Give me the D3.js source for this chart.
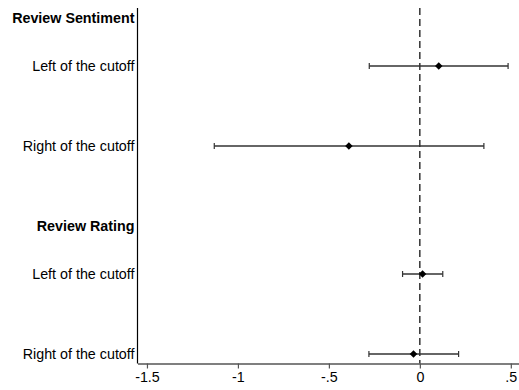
<!DOCTYPE html>
<html>
<head>
<meta charset="utf-8">
<script src="https://cdn.jsdelivr.net/npm/d3@7"></script>
<style>
  html, body { margin: 0; padding: 0; background: #fff; }
  svg { display: block; font-family: "Liberation Sans", Arial, sans-serif; }
</style>
</head>
<body>
<svg id="chart" width="519" height="390"></svg>
<script>
// Coefficient estimates with 95% confidence intervals, grouped by outcome
const groups = ["Review Sentiment", "Review Rating"];
const labels = ["Left of the cutoff", "Right of the cutoff"];
const estimates = [0.104, -0.39, 0.015, -0.035];
const lower = [-0.278, -1.13, -0.095, -0.28];
const upper = [0.485, 0.352, 0.126, 0.213];
const xTicks = [-1.5, -1, -0.5, 0, 0.5];
const xTickLabels = ["-1.5", "-1", "-.5", "0", ".5"];

const svg = d3.select("#chart");
const plotLeft = 137.5, plotRight = 519, plotTop = 8, plotBottom = 363.5;
const fontSize = "14.3px";

const x = d3.scaleLinear().domain([-1.552, 0.545]).range([plotLeft, plotRight]);
// Row positions: heading, then two coefficient rows per group
const y = d3.scaleLinear().domain([0, 4.2]).range([18, 354]);

const rows = [];
groups.forEach((g, gi) => {
  const base = gi * 2.6;
  rows.push({ type: "head", text: g, pos: base });
  labels.forEach((l, li) => {
    const k = gi * 2 + li;
    rows.push({ type: "coef", text: l, pos: base + 0.6 + li,
      est: estimates[k], lo: lower[k], hi: upper[k] });
  });
});

// Vertical reference line at zero
svg.append("line")
  .attr("x1", x(0)).attr("x2", x(0))
  .attr("y1", plotTop).attr("y2", plotBottom)
  .attr("stroke", "#000").attr("stroke-width", 1.2)
  .attr("stroke-dasharray", "7,4");

// Y axis line
svg.append("line")
  .attr("x1", plotLeft).attr("x2", plotLeft)
  .attr("y1", plotTop).attr("y2", plotBottom)
  .attr("stroke", "#000").attr("stroke-width", 1.2);

// X axis
const xAxis = d3.axisBottom(x)
  .tickValues(xTicks)
  .tickFormat((d, i) => xTickLabels[i])
  .tickSize(5)
  .tickSizeOuter(0)
  .tickPadding(3);
const gx = svg.append("g").attr("transform", `translate(0,${plotBottom})`).call(xAxis);
gx.select(".domain").attr("stroke", "#555").attr("stroke-width", 1.3);
gx.selectAll(".tick line").attr("stroke", "#555").attr("stroke-width", 1.2);
gx.selectAll(".tick text").attr("fill", "#000")
  .style("font-size", fontSize).style("font-family", "Liberation Sans, Arial, sans-serif");

// Row labels
svg.selectAll("text.rowlab").data(rows).enter().append("text")
  .attr("class", "rowlab")
  .attr("x", plotLeft - 3)
  .attr("y", d => y(d.pos))
  .attr("dy", "0.35em")
  .attr("text-anchor", "end")
  .style("font-size", fontSize)
  .style("font-weight", d => d.type === "head" ? "bold" : "normal")
  .attr("fill", "#000")
  .text(d => d.text);

const coefs = rows.filter(d => d.type === "coef");

// Confidence interval bars with caps
const ci = svg.selectAll("g.ci").data(coefs).enter().append("g").attr("class", "ci");
ci.append("line")
  .attr("x1", d => x(d.lo)).attr("x2", d => x(d.hi))
  .attr("y1", d => y(d.pos)).attr("y2", d => y(d.pos))
  .attr("stroke", "#333").attr("stroke-width", 1.3);
ci.append("line")
  .attr("x1", d => x(d.lo)).attr("x2", d => x(d.lo))
  .attr("y1", d => y(d.pos) - 3).attr("y2", d => y(d.pos) + 3)
  .attr("stroke", "#333").attr("stroke-width", 1.2);
ci.append("line")
  .attr("x1", d => x(d.hi)).attr("x2", d => x(d.hi))
  .attr("y1", d => y(d.pos) - 3).attr("y2", d => y(d.pos) + 3)
  .attr("stroke", "#333").attr("stroke-width", 1.2);

// Point estimates
svg.selectAll("path.pt").data(coefs).enter().append("path")
  .attr("class", "pt")
  .attr("d", d3.symbol().type(d3.symbolDiamond2).size(36))
  .attr("transform", d => `translate(${x(d.est)},${y(d.pos)})`)
  .attr("fill", "#000");
</script>
</body>
</html>
